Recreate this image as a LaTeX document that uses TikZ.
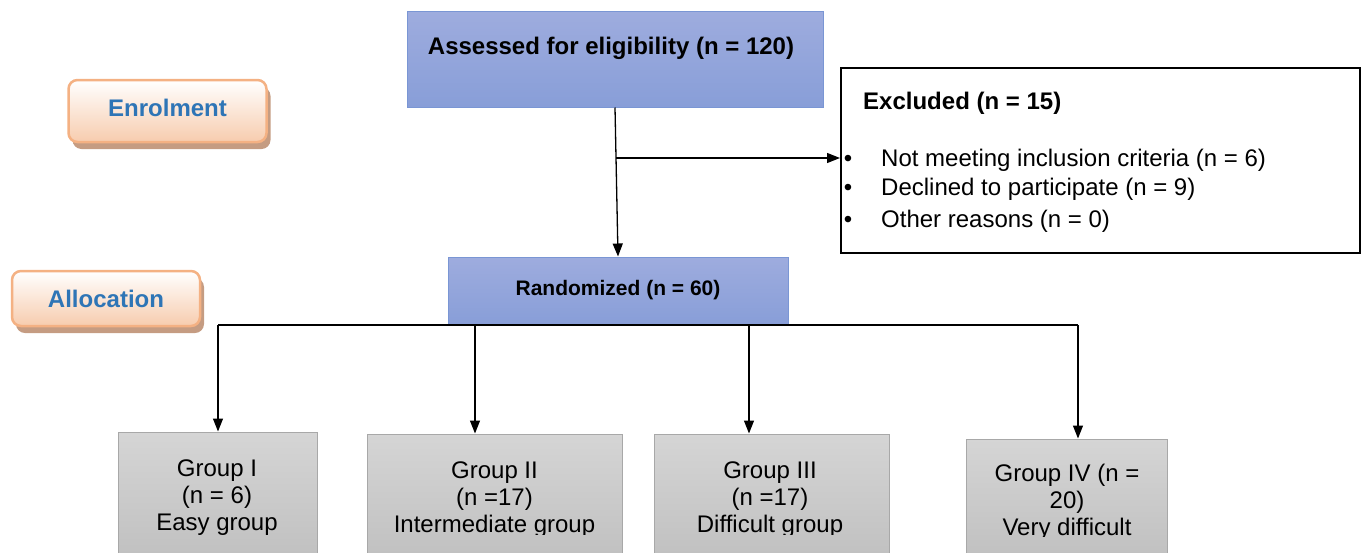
\documentclass[tikz,border=0pt]{standalone}
\usepackage{fontspec}
\setmainfont{Liberation Sans}
\usetikzlibrary{arrows.meta,shadows}
\definecolor{bluetop}{HTML}{9EACDE}
\definecolor{bluebot}{HTML}{889ED8}
\definecolor{blueedge}{HTML}{7A96D4}
\definecolor{graytop}{HTML}{D5D5D5}
\definecolor{graybot}{HTML}{C0C0C0}
\definecolor{grayedge}{HTML}{A8A8A8}
\definecolor{orangeedge}{HTML}{F4B183}
\definecolor{orangebot}{HTML}{F7CCAE}
\definecolor{shadowcol}{HTML}{C59C82}
\definecolor{labelblue}{HTML}{2E75B6}
\begin{document}
\begin{tikzpicture}[x=1pt,y=-1pt,
  bluebox/.style={draw=blueedge, line width=1pt, top color=bluetop, bottom color=bluebot, inner sep=0pt},
  graybox/.style={draw=grayedge, line width=1pt, top color=graytop, bottom color=graybot, inner sep=0pt},
  stagebox/.style={draw=orangeedge, line width=2.5pt, rounded corners=9pt, top color=white, bottom color=orangebot, inner sep=0pt, drop shadow={shadow xshift=4pt, shadow yshift=-7pt, fill=shadowcol, opacity=1}, font=\fontsize{24}{28}\selectfont\bfseries, text=labelblue},
  exclbox/.style={draw=black, line width=2pt, fill=white, inner sep=0pt},
  bold24/.style={font=\fontsize{24}{28}\selectfont\bfseries, text height=17pt, text depth=5pt, inner sep=0pt},
  reg24/.style={font=\fontsize{24}{28}\selectfont, text height=17pt, text depth=5pt, inner sep=0pt},
  grouptext/.style={font=\fontsize{24}{27}\selectfont, align=center, inner sep=0pt},
  conn/.style={line width=1.3pt, draw=black},
  arr/.style={conn, -{Triangle[length=13pt,width=10pt]}}
]
\useasboundingbox (0,0) rectangle (1362,552);

% stage labels
\node[stagebox, minimum width=198pt, minimum height=62pt, text depth=6pt] (enrol) at (167.5,111) {Enrolment};
\node[stagebox, minimum width=188pt, minimum height=55pt] (alloc) at (106,298.5) {Allocation};

% main boxes
\node[bluebox, minimum width=416pt, minimum height=96pt] (assess) at (615,59) {};
\node[bold24] (assesslbl) at (611,48) {Assessed for eligibility (n = 120)};

\node[exclbox, minimum width=519pt, minimum height=185pt] (excl) at (1100.5,160.5) {};
\node[bold24, anchor=west] (excltitle) at (863,103) {Excluded (n = 15)};
\node[reg24] (bul1) at (848,160) {\textbullet};
\node[reg24] (bul2) at (848,189) {\textbullet};
\node[reg24] (bul3) at (848,221) {\textbullet};
\node[reg24, anchor=west] (ex1) at (881,160) {Not meeting inclusion criteria (n = 6)};
\node[reg24, anchor=west] (ex2) at (881,189) {Declined to participate (n = 9)};
\node[reg24, anchor=west] (ex3) at (881,221) {Other reasons (n = 0)};

\node[bluebox, minimum width=340pt, minimum height=67pt, font=\fontsize{21}{25}\selectfont\bfseries] (rand) at (618,290.5) {Randomized (n = 60)};

% group boxes
\node[graybox, minimum width=199pt, minimum height=128pt] (g1) at (217.5,496) {};
\node[graybox, minimum width=255pt, minimum height=126pt] (g2) at (494.5,497) {};
\node[graybox, minimum width=235pt, minimum height=126pt] (g3) at (771.5,497) {};
\node[graybox, minimum width=201pt, minimum height=121pt] (g4) at (1066.5,499.5) {};

\begin{scope}
\clip (0,0) rectangle (940,534);
\node[grouptext] (g1lbl) at (217,498) {Group I\\(n = 6)\\Easy group};
\node[grouptext] (g2lbl) at (494.5,500) {Group II\\(n =17)\\Intermediate group};
\node[grouptext] (g3lbl) at (770,500) {Group III\\(n =17)\\Difficult group};
\end{scope}
\begin{scope}
\clip (940,0) rectangle (1362,536);
\node[grouptext] (g4lbl) at (1067,502) {Group IV (n =\\20)\\Very difficult};
\end{scope}

% connectors
\draw[arr] (assess.south) -- (rand.north);
\coordinate (br) at (616,158);
\draw[arr] (br) -- (excl.west |- br);

\coordinate (d1) at (218,325);
\coordinate (d2) at (475,325);
\coordinate (d3) at (749,325);
\coordinate (d4) at (1078,325);
\draw[conn] (d1) -- (d4);
\draw[arr] (d1) -- (d1 |- g1.north);
\draw[arr] (d2) -- (d2 |- g2.north);
\draw[arr] (d3) -- (d3 |- g3.north);
\draw[arr] (d4) -- (d4 |- g4.north);
\end{tikzpicture}
\end{document}
